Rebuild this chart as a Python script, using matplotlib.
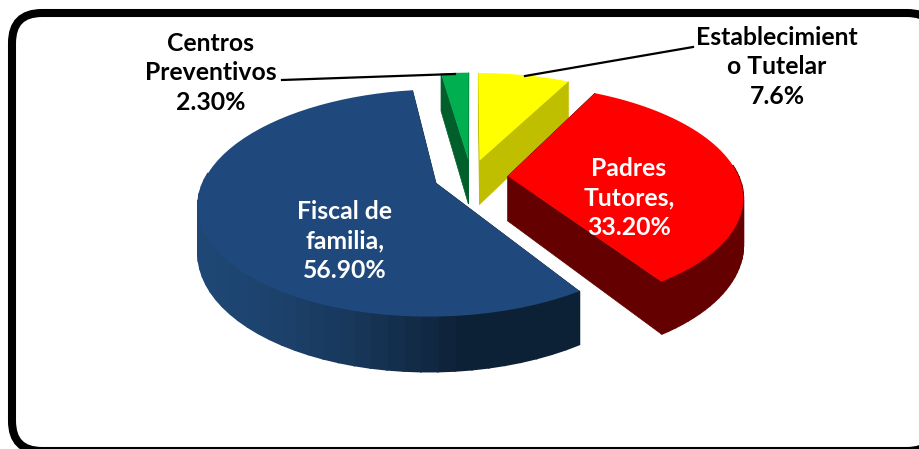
import numpy as np
import matplotlib
matplotlib.use("Agg")
import matplotlib.pyplot as plt
from matplotlib.patches import FancyBboxPatch

plt.rcParams["font.family"] = ["Lato", "DejaVu Sans"]

# data
names = ["Establecimiento Tutelar", "Padres Tutores", "Fiscal de familia", "Centros Preventivos"]
values = [7.6, 33.2, 56.9, 2.3]
top_colors = ["#ffff00", "#ff0000", "#1f497d", "#00b050"]
wall_colors = ["#bfbf00", "#640000", "#0d2136", "#005f2b"]
side_left = ["#bfbf00", "#7a0000", "#1f4775", "#005f2b"]
label_texts = ["Establecimient\no Tutelar\n7.6%", "Padres\nTutores,\n33.20%", "Fiscal de\nfamilia,\n56.90%", "Centros\nPreventivos\n2.30%"]

# projection of the pie plane to pixels
CX, CY = 471, 177
RX, RY = 231, 108
PERSP = 0.173
DEPTH = 45
EXPLODE = 0.16


def project(u, v, h=0.0):
    w = 1 + PERSP * v
    return CX + RX * u / w, CY - RY * v / w + h / w


def rim(a, ox, oy, h=0.0):
    return project(np.sin(a) + ox, np.cos(a) + oy, h)


def mix(c1, c2, t):
    a = np.array(matplotlib.colors.to_rgb(c1))
    b = np.array(matplotlib.colors.to_rgb(c2))
    return a + (b - a) * t


def draw_slice(ax, start, end, i):
    mid = np.radians((start + end) / 2)
    ox, oy = EXPLODE * np.sin(mid), EXPLODE * np.cos(mid)
    angles = np.radians(np.linspace(start, end, 60))
    a0, a1 = angles[0], angles[-1]
    tx, ty = project(ox, oy)
    bx, by = project(ox, oy, DEPTH)

    # flat cut walls
    for a in (a0, a1):
        x, y = rim(a, ox, oy)
        x2, y2 = rim(a, ox, oy, DEPTH)
        ax.fill([tx, x, x2, bx], [ty, y, y2, by], color=wall_colors[i], lw=0.5)

    # outer wall, only the part facing the viewer
    for k in range(len(angles) - 1):
        a, b = angles[k], angles[k + 1]
        if np.cos((a + b) / 2) > 0.12:
            continue
        x1, y1 = rim(a, ox, oy)
        x2, y2 = rim(b, ox, oy)
        x3, y3 = rim(b, ox, oy, DEPTH)
        x4, y4 = rim(a, ox, oy, DEPTH)
        t = (np.sin((a + b) / 2) + 1) / 2
        shade = mix(side_left[i], wall_colors[i], min(1, (t * 1.8) ** 2))
        ax.fill([x1, x2, x3, x4], [y1, y2, y3, y4], facecolor=shade, edgecolor=shade, lw=1.2)

    # top face
    xs, ys = rim(angles, ox, oy)
    ax.fill(np.r_[tx, xs], np.r_[ty, ys], color=top_colors[i], lw=0)


fig = plt.figure(figsize=(9.2, 4.49), dpi=100)
ax = fig.add_axes([0, 0, 1, 1])
ax.set_xlim(0, 920)
ax.set_ylim(449, 0)
ax.axis("off")

frame = FancyBboxPatch((12, 13), 925, 438, boxstyle="round,pad=0,rounding_size=30", fc="white", ec="black", lw=5.8)
ax.add_patch(frame)

edges = np.cumsum([0] + values) / sum(values) * 360
# back to front
for i in [3, 0, 1, 2]:
    draw_slice(ax, edges[i], edges[i + 1], i)

ax.plot([282, 455], [80, 74], color="black", lw=1.6)
ax.plot([693, 525], [47, 76], color="black", lw=1.6)

font = dict(fontsize=17.8, fontweight="bold", ha="center", va="center", linespacing=1.36)
ax.text(777, 67, label_texts[0], color="black", **font)
ax.text(629, 198, label_texts[1], color="white", **font)
ax.text(345, 241, label_texts[2], color="white", **font)
ax.text(211, 73, label_texts[3], color="black", **font)

plt.savefig("out.png", dpi=100)
plt.close()
